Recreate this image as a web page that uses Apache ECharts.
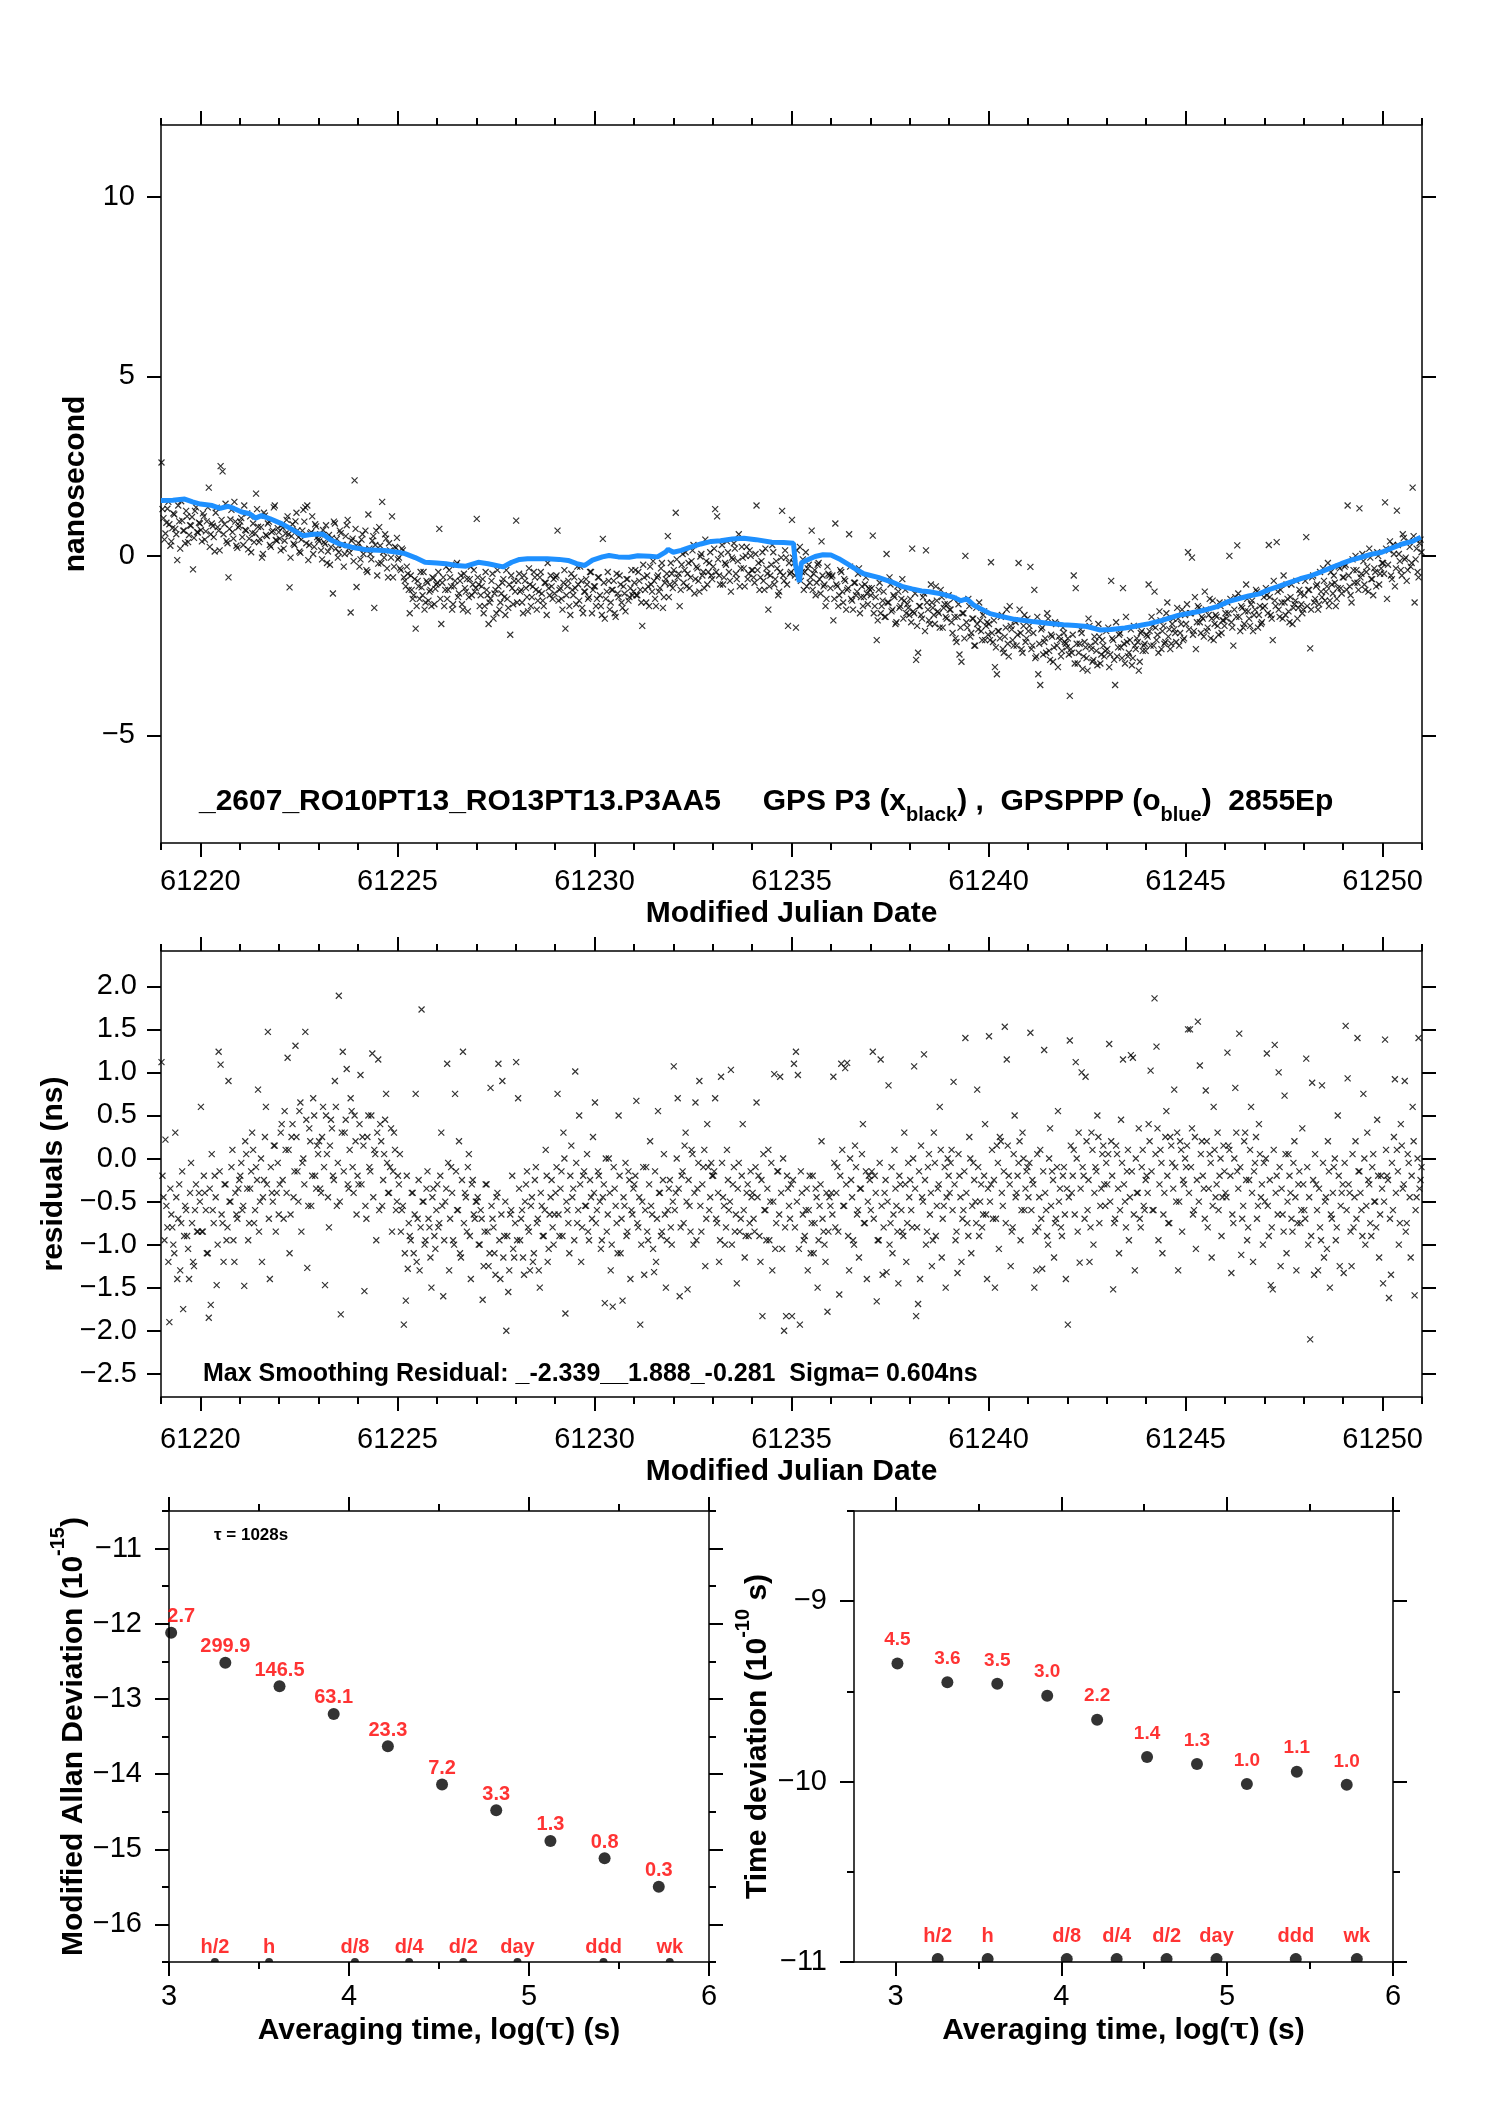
<!DOCTYPE html>
<html><head><meta charset="utf-8">
<script src="https://cdn.jsdelivr.net/npm/echarts@6/dist/echarts.min.js"></script>
<style>html,body{margin:0;padding:0;background:#fff}#c{width:1488px;height:2105px}</style>
</head><body><div id="c"></div>
<script>
// ---------------- data ----------------
const mjdStart = 61219;          // first day shown
// GPS P3 clock difference, hundredths of ns, one row per day 61219..61250 (first pass of epochs)
const p3A = [
[260,105,62,131,88,40,118,75,-12,96,152,70,35,110,58,84,-38,125,66,92],
[72,118,45,96,190,60,83,12,134,70,250,235,88,41,-60,101,66,150,28,79],
[95,52,140,70,18,110,64,38,173,81,47,-5,120,58,90,30,66,135,44,77],
[48,85,20,62,110,-88,55,34,96,71,12,45,128,135,140,30,66,5,88,52],
[40,15,72,33,-20,58,25,-105,90,47,10,63,30,5,85,20,-158,48,210,-87],
[35,-10,60,18,-40,115,5,42,-145,70,-22,28,150,-5,48,-60,15,110,-30,22],
[-10,-35,20,-60,-85,-50,-160,-95,-110,-203,-70,-120,-88,-45,-130,-75,-100,-140,-62,-92],
[-75,75,-190,-60,-95,-120,-40,-85,-135,-70,-20,-105,-55,-150,-90,-65,-115,-30,-80,-100],
[103,-80,-110,-65,-140,-95,-190,-120,-50,-105,-160,-85,-130,-75,-115,-40,-145,-220,-90,-70],
[98,-70,-100,-130,-55,-90,-155,-80,-115,-45,-95,-125,-60,-105,-140,-75,-20,-110,-85,-65],
[-60,70,-95,-120,-75,-203,-85,-140,-50,-110,-90,-30,-125,-70,-160,-100,-80,-115,-45,-95],
[-85,-120,-60,-140,47,-175,-100,-70,-130,-95,-160,-50,-115,-80,-145,-105,-65,-125,-90,-110],
[-75,-110,-45,-95,-195,-60,-130,-85,-30,-100,-70,-140,-55,-90,-20,-115,-65,55,-80,-50],
[-40,120,-60,-140,-25,-75,10,-50,-90,-15,30,-65,-35,-100,5,-45,45,-80,-20,-55],
[-30,130,110,-55,5,-80,-20,40,-45,-100,-10,20,-65,60,-35,-5,-85,25,-50,0],
[-40,-75,140,-20,-60,10,-95,-35,-150,-55,30,-80,-15,-110,-45,125,-70,-5,-195,-50],
[100,-20,-200,-60,25,-45,-95,10,-35,-75,70,-50,-110,-25,-65,40,-85,-140,-30,-55],
[-60,-180,90,-85,-110,-45,-130,-70,-95,60,-120,-150,-75,-100,-35,-115,-140,-80,-105,-90],
[-110,56,-140,-235,-95,-160,-125,-170,5,-130,-80,-150,-115,-185,-100,-140,-65,-125,-160,-145],
[-120,20,-160,-290,-270,-140,-175,-105,15,-150,-190,-130,-165,-85,-155,-200,-115,-145,-170,-135],
[-150,-185,-120,-230,-170,-275,-295,-160,0,-200,-140,-215,-175,-250,-190,-130,-210,-165,-235,-185],
[-190,-18,-240,-310,-330,-210,-170,-260,-225,-150,-280,-195,-235,-180,-250,-20,-215,-270,-165,-230],
[-210,-31,-250,-95,-280,-330,-360,-200,-240,-270,-175,-290,-225,-255,-190,-310,-235,-265,-215,-245],
[-230,-390,-270,-55,-90,-300,-245,-215,-280,-255,-320,-195,-260,-290,-240,-305,-225,-275,-250,-265],
[-260,-310,-70,-235,-360,-280,-220,-255,-90,-300,-240,-270,-205,-285,-250,-230,-320,-215,-265,-245],
[-220,-80,-250,-195,-100,-235,-270,-180,-210,-245,-160,-225,-260,-190,-205,-240,-175,-215,-150,-230],
[-190,10,-160,-5,-210,-260,-140,-185,-170,-225,-150,-200,-120,-175,-235,-165,-195,-130,-215,-180],
[-160,-130,0,-185,-250,-115,29,-170,-140,-200,-155,-120,-175,-135,-210,-150,-100,-165,-190,-145],
[-140,-110,30,-165,-235,-125,38,-150,-95,-175,-130,-80,-155,-115,-190,-135,-70,-145,-105,-160],
[-110,52,-95,-258,-60,-130,-85,-150,-45,-115,-70,-100,-20,-125,-80,-55,-140,-90,-35,-105],
[-60,-25,140,-85,-130,-40,0,-75,132,-50,-15,-95,-30,20,-65,-110,-45,10,-80,-35],
[-20,149,-120,15,-55,30,-85,126,5,-40,60,-10,-70,40,-30,190,-130,20,-60,45]
];
// GPS P3, second pass of epochs (body of the band)
const p3B = [
[130,45,92,150,28,77,115,60,140,20,98,70,125,38,85,108,50,135,65,90],
[40,110,68,135,25,90,52,120,80,15,100,60,145,35,75,128,48,95,22,84],
[105,30,72,118,48,10,90,62,130,38,80,5,112,55,95,25,70,140,42,66],
[15,78,42,100,60,-5,88,30,120,52,8,70,95,35,-12,62,110,25,82,45],
[60,-10,38,85,12,-25,50,95,20,-5,70,30,-30,55,100,8,42,-15,75,25],
[-30,45,5,70,-45,20,-10,55,30,-55,80,-20,10,60,-35,35,-5,-60,25,50],
[-5,-40,15,-70,-30,-95,-55,-120,-65,-140,-85,-45,-110,-150,-70,-125,-95,-60,-135,-80],
[-45,-120,-75,-140,-30,-95,-60,-150,-85,-25,-115,-70,-135,-50,-100,-155,-65,-110,-40,-90],
[-60,-140,-85,-160,-45,-110,-130,-70,-175,-95,-40,-150,-105,-65,-165,-120,-80,-55,-135,-100],
[-130,-50,-95,-160,-70,-115,-35,-140,-85,-60,-150,-100,-45,-125,-75,-165,-90,-55,-120,-105],
[-55,-125,-90,-150,-40,-110,-70,-165,-95,-60,-135,-80,-30,-145,-100,-65,-120,-45,-160,-85],
[-140,-60,-110,-165,-75,-120,-45,-150,-95,-70,-170,-105,-55,-130,-85,-155,-65,-115,-40,-100],
[-40,-110,-70,-130,-25,-95,-55,-140,-80,-15,-120,-60,-100,-35,-145,-75,-50,-115,-20,-90],
[-75,-10,-50,-95,5,-40,-85,-20,-60,15,-105,-30,-70,-2,-55,-90,-15,-45,10,-65],
[20,-45,-10,-80,30,-60,-25,10,-70,-5,35,-50,-15,-85,25,-35,0,-65,15,-40],
[-60,5,-40,-95,-15,-70,20,-50,-85,-25,10,-65,-35,-100,-5,-55,15,-80,-20,-45],
[-5,-55,15,-35,-70,-10,-45,-85,-25,-60,-95,-40,-75,-20,-105,-55,-80,-120,-50,-90],
[-55,-120,-80,-140,-40,-100,-65,-150,-90,-30,-125,-75,-110,-50,-160,-85,-115,-60,-135,-95],
[-90,-160,-115,-180,-75,-140,-100,-170,-130,-60,-155,-110,-190,-85,-145,-120,-175,-95,-135,-165],
[-185,-155,-105,-195,-140,-165,-115,-210,-130,-180,-80,-145,-190,-125,-160,-95,-200,-135,-175,-110],
[-150,-215,-170,-240,-135,-200,-160,-230,-185,-120,-225,-175,-250,-145,-205,-180,-235,-155,-195,-220],
[-235,-215,-180,-255,-210,-230,-165,-270,-200,-245,-140,-205,-250,-185,-220,-150,-260,-195,-240,-175],
[-195,-260,-215,-285,-170,-245,-205,-275,-230,-160,-265,-220,-295,-185,-250,-225,-280,-200,-240,-255],
[-275,-260,-220,-300,-245,-270,-205,-315,-240,-285,-175,-250,-295,-225,-265,-190,-300,-235,-280,-210],
[-200,-275,-230,-290,-185,-255,-215,-285,-245,-170,-280,-235,-305,-195,-260,-240,-295,-210,-250,-265],
[-225,-210,-170,-250,-200,-220,-155,-260,-195,-240,-130,-205,-245,-175,-215,-145,-250,-190,-235,-165],
[-135,-205,-160,-220,-115,-185,-145,-215,-175,-100,-210,-165,-230,-125,-190,-170,-220,-140,-180,-195],
[-175,-160,-120,-200,-150,-170,-105,-210,-145,-190,-80,-155,-195,-125,-165,-95,-200,-140,-185,-115],
[-90,-160,-115,-175,-70,-140,-100,-170,-130,-55,-165,-120,-185,-80,-145,-125,-175,-95,-135,-150],
[-70,-140,-95,-150,-55,-120,-80,-135,-100,-35,-125,-85,-140,-45,-105,-75,-120,-30,-90,-60],
[-30,-95,-55,-110,-10,-75,-40,-95,-60,5,-80,-45,-100,-5,-65,-35,-85,0,-50,-20],
[-50,20,-25,40,-65,5,-35,30,-15,-55,50,-5,-40,25,-20,55,-10,-45,35,10]
];
// GPSPPP (blue) : MJD and ns
const pppMjd = [61219.0,61219.3,61219.6,61219.8,61220.0,61220.3,61220.5,61220.7,61220.85,61221.05,61221.25,61221.4,61221.55,61221.77,61222.07,61222.3,61222.6,61222.85,61223.1,61223.3,61223.53,61223.7,61223.84,61224.2,61224.67,61225.0,61225.19,61225.45,61225.7,61226.0,61226.23,61226.5,61226.74,61227.05,61227.3,61227.68,61227.9,61228.1,61228.3,61228.8,61229.1,61229.33,61229.55,61229.75,61229.95,61230.2,61230.37,61230.6,61230.88,61231.1,61231.4,61231.6,61231.8,61231.87,61232.0,61232.2,61232.44,61232.7,61232.96,61233.2,61233.5,61233.79,61234.1,61234.5,61234.8,61235.05,61235.1,61235.2,61235.25,61235.37,61235.6,61235.8,61236.0,61236.2,61236.41,61236.6,61236.83,61237.2,61237.55,61237.8,61238.06,61238.3,61238.5,61238.8,61239.1,61239.3,61239.45,61239.63,61239.85,61240.04,61240.3,61240.66,61240.9,61241.18,61241.5,61241.9,61242.21,61242.5,61242.84,61243.1,61243.46,61243.8,61244.08,61244.4,61244.81,61245.1,61245.33,61245.6,61245.84,61246.1,61246.36,61246.6,61246.87,61247.1,61247.4,61247.65,61247.91,61248.2,61248.43,61248.7,61248.95,61249.2,61249.46,61249.7,61249.98,61250.2,61250.5,61250.75,61250.97];
const pppNs = [1.54,1.55,1.58,1.50,1.44,1.40,1.32,1.38,1.32,1.22,1.17,1.05,1.12,1.03,0.89,0.75,0.56,0.60,0.61,0.45,0.33,0.28,0.24,0.17,0.15,0.10,0.06,-0.05,-0.18,-0.20,-0.22,-0.27,-0.29,-0.18,-0.22,-0.31,-0.18,-0.10,-0.08,-0.08,-0.10,-0.13,-0.22,-0.27,-0.12,-0.03,0.01,-0.03,-0.04,0.00,-0.01,-0.03,0.10,0.18,0.10,0.15,0.24,0.33,0.40,0.42,0.47,0.49,0.45,0.38,0.37,0.35,-0.25,-0.73,-0.20,-0.13,-0.02,0.03,0.02,-0.08,-0.22,-0.35,-0.50,-0.60,-0.73,-0.85,-0.92,-0.98,-1.00,-1.06,-1.15,-1.25,-1.20,-1.38,-1.50,-1.61,-1.68,-1.77,-1.80,-1.84,-1.88,-1.92,-1.94,-1.97,-2.07,-2.05,-2.01,-1.95,-1.89,-1.80,-1.66,-1.60,-1.55,-1.48,-1.40,-1.27,-1.19,-1.12,-1.06,-0.95,-0.84,-0.74,-0.64,-0.55,-0.45,-0.33,-0.22,-0.12,-0.04,0.04,0.10,0.20,0.33,0.40,0.52];
// residuals, hundredths of ns, one row per day 61219..61250 (first pass)
const resA = [
[112,-45,22,-80,-190,-65,-100,30,-140,-30,-75,-175,-55,-90,-140,-5,-120,-60,-85,-40],
[60,-85,-40,-110,-185,-170,-60,-20,-147,124,109,-75,-30,-95,90,-50,10,-120,-65,-35],
[-20,-60,-148,5,-95,-35,30,-75,-10,80,-50,-120,-25,60,147,-140,-40,15,-85,-5],
[-30,40,-70,10,117,-110,25,-45,131,-15,55,-85,0,147,-127,35,-55,70,-20,15],
[20,-40,60,-147,5,-80,45,-20,90,-55,189,-181,124,30,104,-35,70,-10,50,-65],
[-30,97,25,-154,-70,50,-15,122,10,-95,115,40,-55,5,75,-40,-10,-85,30,-60],
[-20,5,-60,-193,-165,-128,-90,-40,-110,75,-70,-130,173,-50,-95,-15,-80,-150,-35,-105],
[-30,-75,30,-160,-50,110,-130,-10,-95,75,-60,20,-115,124,-40,-85,5,-140,-25,-70],
[-50,-100,-60,-164,-85,-30,-125,82,-70,-110,-45,110,-140,90,-90,-200,-155,-65,-20,-115],
[112,70,-95,-60,-135,-30,-80,-130,-45,-110,-10,-70,-150,-55,-90,10,-120,-65,-25,-100],
[-40,75,-90,-15,30,-180,-60,-110,15,-35,101,-75,50,-120,-20,-55,5,-95,-45,25],
[65,-60,-20,-105,-45,-168,-85,0,-130,-172,-35,-75,50,-110,-165,-55,-90,-15,-140,-65],
[-30,67,-80,-193,-50,-135,-10,-95,20,-65,-132,-120,55,-40,-85,5,-150,-60,-25,-100],
[107,-40,70,-160,-20,-75,30,-152,-55,10,-100,65,-35,90,-85,-10,-125,40,-60,-5],
[-20,70,-75,-120,95,-45,-100,10,-60,103,-30,-85,-145,-5,-70,40,-115,-40,-90,-15],
[-40,-85,65,-20,-120,-183,-60,-95,10,-50,-130,98,-75,-15,95,-105,-200,-183,-35,-70],
[-183,110,124,97,-193,-40,-95,-60,-130,-20,-75,-110,-35,-150,-55,20,-85,-120,-178,-45],
[-40,95,-80,-10,-158,110,-55,105,111,-130,-25,-95,15,-65,-115,-35,40,-75,-140,-20],
[-60,124,-20,-166,-95,115,-135,-40,-132,85,-75,-110,10,-55,-145,-30,-85,30,-120,-5],
[-25,-80,107,-183,-169,-140,-45,121,-100,-10,-65,-125,30,-90,-35,60,-115,-55,-150,0],
[-40,10,89,-95,-133,-20,-120,-60,140,-75,25,-110,-5,-50,80,-90,-30,-65,40,-140],
[142,-30,-70,-150,15,-105,20,-55,153,115,-20,-125,-80,50,-40,-5,-95,30,-60,-15],
[-45,146,-25,-150,-130,-80,10,-128,126,-60,-100,35,-15,-115,-70,55,-35,-90,-10,-140],
[-193,137,-40,10,112,-85,-121,100,-20,95,-60,-120,30,-100,-10,50,-75,-35,15,-55],
[-30,133,20,-152,-70,5,-110,45,115,-50,-15,-95,120,117,-130,-40,35,-80,10,-60],
[-20,40,102,-60,186,130,-95,10,-110,-40,55,-75,25,-5,80,-50,-130,20,-85,-30],
[-10,150,150,35,-60,-105,159,108,20,-35,79,-80,5,-115,60,-45,30,-20,-90,15],
[-40,123,10,-133,-75,82,-15,145,-112,-55,30,-95,-25,60,-120,-5,-70,40,-45,-100],
[-50,122,-90,-147,-152,132,-20,100,-125,-65,73,-110,5,-40,-85,20,-130,-30,-75,35],
[-60,116,-100,-210,88,-135,-30,-130,-80,85,-115,-45,20,-150,-70,-10,-95,50,-125,-40],
[-133,154,93,-40,-125,-80,20,140,-15,-60,75,-100,30,-30,-90,5,-50,45,-115,-20],
[-145,138,-20,-162,-135,-60,92,10,-100,40,-35,90,-75,-5,-115,60,-159,-45,140,-25]
];
// residuals, second pass (body of the band)
const resB = [
[-20,-95,-55,-120,-35,-80,-110,-45,-70,-130,-15,-90,-60,-105,-40,-75,-125,-30,-85,-50],
[-85,-20,-60,-110,-35,5,-75,-45,-100,-15,-65,-120,-30,-80,-50,-10,-95,-40,-70,-25],
[-5,-55,20,-35,-75,-15,10,-60,-25,-85,0,-45,25,-30,-70,-10,-50,15,-40,-65],
[30,-25,55,-40,10,-65,40,-15,25,-50,65,-5,-30,45,-55,20,-20,50,-35,5],
[-35,25,-10,50,-45,15,35,-25,60,-5,-50,30,-15,45,-30,10,55,-40,20,-20],
[40,-30,15,-55,25,-10,50,-45,5,30,-60,20,-25,45,-5,-40,35,-15,10,-50],
[-30,-85,-55,-110,-20,-75,-95,-40,-65,-120,-25,-80,-50,-100,-35,-70,-115,-45,-90,-60],
[-80,-20,-55,-95,-35,-5,-70,-40,-100,-15,-60,-110,-25,-75,-45,-10,-90,-30,-65,-50],
[-45,-100,-70,-125,-30,-85,-110,-55,-80,-135,-40,-95,-65,-115,-50,-90,-130,-60,-105,-75],
[-95,-35,-70,-115,-50,-15,-85,-55,-120,-25,-75,-130,-40,-90,-60,-20,-105,-45,-80,-65],
[-10,-65,-35,-90,0,-50,-75,-20,-45,-95,-5,-60,-30,-80,-15,-55,-85,-25,-70,-40],
[-75,-15,-50,-95,-30,0,-65,-40,-100,-10,-55,-110,-20,-70,-45,-5,-85,-25,-60,-35],
[-20,-75,-45,-100,-10,-60,-85,-30,-55,-105,-15,-70,-40,-90,-25,-65,-95,-35,-80,-50],
[-60,0,-35,-80,-15,15,-50,-25,-85,5,-40,-95,-5,-55,-30,10,-70,-10,-45,-20],
[-15,-70,-40,-95,-5,-55,-80,-25,-50,-100,-10,-65,-35,-85,-20,-60,-90,-30,-75,-45],
[-70,-10,-45,-90,-25,5,-60,-35,-95,-5,-50,-105,-15,-65,-40,0,-80,-20,-55,-30],
[-25,-80,-50,-105,-15,-65,-90,-35,-60,-110,-20,-75,-45,-95,-30,-70,-100,-40,-85,-55],
[-65,-5,-40,-85,-20,10,-55,-30,-90,0,-45,-100,-10,-60,-35,5,-75,-15,-50,-25],
[-15,-70,-40,-95,-5,-55,-80,-25,-50,-100,-10,-65,-35,-85,-20,-60,-90,-30,-75,-45],
[-60,0,-35,-80,-15,15,-50,-25,-85,5,-40,-95,-5,-55,-30,10,-70,-10,-45,-20],
[-5,-60,-30,-85,5,-45,-70,-15,-40,-90,0,-55,-25,-75,-10,-50,-80,-20,-65,-35],
[-50,10,-25,-70,-5,25,-40,-15,-75,15,-30,-85,5,-45,-20,20,-60,0,-35,-10],
[-5,-60,-30,-85,5,-45,-70,-15,-40,-90,0,-55,-25,-75,-10,-50,-80,-20,-65,-35],
[-45,15,-20,-65,0,30,-35,-10,-70,20,-25,-80,10,-40,-15,25,-55,5,-30,-5],
[5,-50,-20,-75,15,-35,-60,-5,-30,-80,10,-45,-15,-65,0,-40,-70,-10,-55,-25],
[-40,20,-15,-60,5,35,-30,-5,-65,25,-20,-75,15,-35,-10,30,-50,10,-25,0],
[15,-40,-10,-65,25,-25,-50,5,-20,-70,20,-35,-5,-55,10,-30,-60,0,-45,-15],
[-45,15,-20,-65,0,30,-35,-10,-70,20,-25,-80,10,-40,-15,25,-55,5,-30,-5],
[0,-55,-25,-80,10,-40,-65,-10,-35,-85,5,-50,-20,-70,-5,-45,-75,-15,-60,-30],
[-70,-10,-45,-90,-25,5,-60,-35,-95,-5,-50,-105,-15,-65,-40,0,-80,-20,-55,-30],
[-5,-60,-30,-85,5,-45,-70,-15,-40,-90,0,-55,-25,-75,-10,-50,-80,-20,-65,-35],
[-50,10,-25,-70,-5,25,-40,-15,-75,15,-30,-85,5,-45,-20,20,-60,0,-35,-10]
];
// stability plots
const logTau = [3.012,3.313,3.614,3.915,4.216,4.517,4.818,5.119,5.420,5.721];
const adevLog = [-12.12,-12.52,-12.83,-13.20,-13.63,-14.14,-14.48,-14.89,-15.12,-15.50];
const adevLabels = ["2.7","299.9","146.5","63.1","23.3","7.2","3.3","1.3","0.8","0.3"];
const tdevLog = [-9.345,-9.449,-9.458,-9.524,-9.657,-9.863,-9.903,-10.013,-9.945,-10.018];
const tdevLabels = ["4.5","3.6","3.5","3.0","2.2","1.4","1.3","1.0","1.1","1.0"];
const markerLogTau = [3.255,3.556,4.033,4.334,4.635,4.936,5.414,5.782];
const markerLabels = ["h/2","h","d/8","d/4","d/2","day","ddd","wk"];
// tick labels
const mjdTicks = [61220,61225,61230,61235,61240,61245,61250];
const nsTicks = [-5,0,5,10];
const resTicks = [-2.5,-2,-1.5,-1,-0.5,0,0.5,1,1.5,2];
const tauTicks = [3,4,5,6];
const tauMinor = [3.5,4.5,5.5];
const adevTicks = [-16,-15,-14,-13,-12,-11];
const adevMinor = [-16.5,-15.5,-14.5,-13.5,-12.5,-11.5,-10.5];
const tdevTicks = [-11,-10,-9];
const tdevMinor = [-10.5,-9.5,-8.5];

// ---------------- chart ----------------
const F = '"Liberation Sans", Arial, Helvetica, sans-serif';
const minus = s => String(s).replace('-', '\u2212');
const dayTicks = [];
for (let d = 61219; d <= 61251; d++) if (d % 5 !== 0) dayTicks.push(d);

const xAxis = [], yAxis = [];
function ax(list, o) { list.push(o); return list.length - 1; }
function base(gi, min, max, pos, ticks, len, showLine) {
  return {
    type: 'value', gridIndex: gi, min: min, max: max, position: pos,
    axisLine: { show: showLine, onZero: false, lineStyle: { color: '#000', width: 1.5 } },
    axisTick: { show: true, inside: false, length: len, customValues: ticks, lineStyle: { color: '#000', width: 2 } },
    axisLabel: { show: false }, splitLine: { show: false }, minorTick: { show: false }, minorSplitLine: { show: false }
  };
}
function withLabels(o, vals, margin, fmt) {
  o.axisLabel = { show: true, customValues: vals, margin: margin, fontSize: 29, fontFamily: F, color: '#000',
    formatter: fmt, showMinLabel: true, showMaxLabel: true };
  return o;
}
function withName(o, name, gap, rich) {
  o.name = name; o.nameLocation = 'middle'; o.nameGap = gap;
  o.nameTextStyle = { fontSize: 30, fontWeight: 'bold', fontFamily: F, color: '#000', rich: rich || {} };
  return o;
}
const supRich = {
  m: { fontSize: 30, fontWeight: 'bold', fontFamily: F, color: '#000', lineHeight: 40, verticalAlign: 'bottom' },
  s: { fontSize: 20, fontWeight: 'bold', fontFamily: F, color: '#000', lineHeight: 40, verticalAlign: 'top' },
  t: { fontSize: 30, fontFamily: '"DejaVu Serif", serif', color: '#000', lineHeight: 40, verticalAlign: 'bottom' }
};

// grid 0 & 1 : time series
const mjdFmt = v => String(v);
const X = {}, Y = {};
[[0, 24, 56], [1, 28, 60]].forEach(([gi, lm, ng]) => {
  X[gi] = ax(xAxis, withName(withLabels(base(gi, 61219, 61251, 'bottom', mjdTicks, 14, true), mjdTicks, lm, mjdFmt), 'Modified Julian Date', ng));
  ax(xAxis, base(gi, 61219, 61251, 'bottom', dayTicks, 7, false));
  ax(xAxis, base(gi, 61219, 61251, 'top', mjdTicks, 14, true));
  ax(xAxis, base(gi, 61219, 61251, 'top', dayTicks, 7, false));
});
Y[0] = ax(yAxis, withName(withLabels(base(0, -8, 12, 'left', nsTicks, 14, true), nsTicks, 26, v => minus(v)), 'nanosecond', 55));
ax(yAxis, base(0, -8, 12, 'right', nsTicks, 14, true));
Y[1] = ax(yAxis, withName(withLabels(base(1, -2.77, 2.41, 'left', resTicks, 14, true), resTicks, 24, v => minus(Number(v).toFixed(1))), 'residuals (ns)', 81));
ax(yAxis, base(1, -2.77, 2.41, 'right', resTicks, 14, true));

// grid 2 & 3 : stability
const tauName = '{m|Averaging time, log(}{t|\u03c4}{m|) (s)}';
[[2, 3], [3, 2.75]].forEach(([gi, mn]) => {
  X[gi] = ax(xAxis, withName(withLabels(base(gi, mn, 6, 'bottom', tauTicks, 14, true), tauTicks, 20, v => String(v)), tauName, 44, supRich));
  ax(xAxis, base(gi, mn, 6, 'bottom', tauMinor, 7, false));
  ax(xAxis, base(gi, mn, 6, 'top', tauTicks, 14, true));
  ax(xAxis, base(gi, mn, 6, 'top', tauMinor, 7, false));
});
Y[2] = ax(yAxis, withName(withLabels(base(2, -16.5, -10.5, 'left', adevTicks, 14, true), adevTicks, 27, v => minus(v)),
  '{m|Modified Allan Deviation (10}{s|-15}{m|)}', 80, supRich));
ax(yAxis, base(2, -16.5, -10.5, 'left', adevMinor, 7, false));
ax(yAxis, base(2, -16.5, -10.5, 'right', adevTicks, 14, true));
ax(yAxis, base(2, -16.5, -10.5, 'right', adevMinor, 7, false));
Y[3] = ax(yAxis, withName(withLabels(base(3, -11, -8.5, 'left', tdevTicks, 14, true), tdevTicks, 27, v => minus(v)),
  '{m|Time deviation (10}{s|-10}{m| s)}', 81, supRich));
ax(yAxis, base(3, -11, -8.5, 'left', tdevMinor, 7, false));
ax(yAxis, base(3, -11, -8.5, 'right', tdevTicks, 14, true));
ax(yAxis, base(3, -11, -8.5, 'right', tdevMinor, 7, false));

// series data: two passes of epochs per day, interleaved in time
function daily(rowsA, rowsB) {
  const out = [];
  rowsA.forEach((row, k) => {
    const n = row.length;
    row.forEach((v, j) => out.push([mjdStart + k + (j + 0.25) / n, v / 100]));
    rowsB[k].forEach((v, j) => out.push([mjdStart + k + (j + 0.75) / n, v / 100]));
  });
  return out;
}
const crossSym = 'path://M0,0L10,10M10,0L0,10';
const crossStyle = { color: 'rgba(0,0,0,0)', borderColor: '#000', borderWidth: 1.2 };
const capDot = 'path://M0,9A6.2,6.2 0 1 1 11,9Z';
const red = '#ff0000';

const series = [
  { type: 'scatter', xAxisIndex: X[0], yAxisIndex: Y[0], data: daily(p3A, p3B), symbol: crossSym, symbolSize: [6, 6],
    itemStyle: crossStyle, silent: true, z: 2 },
  { type: 'line', xAxisIndex: X[0], yAxisIndex: Y[0], data: pppMjd.map((m, i) => [m, pppNs[i]]), showSymbol: false,
    lineStyle: { color: '#1E90FF', width: 5 }, silent: true, z: 3 },
  { type: 'scatter', xAxisIndex: X[1], yAxisIndex: Y[1], data: daily(resA, resB), symbol: crossSym, symbolSize: [6, 6],
    itemStyle: crossStyle, silent: true, z: 2 },
  { type: 'scatter', xAxisIndex: X[2], yAxisIndex: Y[2],
    data: logTau.map((t, i) => i === 0 ? { value: [t, adevLog[i]], label: { offset: [10, 0] } } : [t, adevLog[i]]),
    symbol: 'circle', symbolSize: 12, itemStyle: { color: '#000' }, silent: true,
    label: { show: true, position: 'top', distance: 0, formatter: p => adevLabels[p.dataIndex],
      color: red, fontWeight: 'bold', fontSize: 20, fontFamily: F } },
  { type: 'scatter', xAxisIndex: X[2], yAxisIndex: Y[2], data: markerLogTau.map(t => [t, -16.5]),
    symbol: 'path://M0,10A10,10 0 0 1 20,10Z', symbolSize: [8, 4], symbolOffset: [0, '-50%'], itemStyle: { color: '#000' }, silent: true, clip: false,
    label: { show: true, position: 'top', distance: 1, formatter: p => markerLabels[p.dataIndex],
      color: red, fontWeight: 'bold', fontSize: 20, fontFamily: F } },
  { type: 'scatter', xAxisIndex: X[3], yAxisIndex: Y[3], data: logTau.map((t, i) => [t, tdevLog[i]]),
    symbol: 'circle', symbolSize: 12, itemStyle: { color: '#000' }, silent: true,
    label: { show: true, position: 'top', distance: 8, formatter: p => tdevLabels[p.dataIndex],
      color: red, fontWeight: 'bold', fontSize: 19, fontFamily: F } },
  { type: 'scatter', xAxisIndex: X[3], yAxisIndex: Y[3], data: markerLogTau.map(t => [t, -11]),
    symbol: capDot, symbolSize: [12, 9], symbolOffset: [0, '-50%'], itemStyle: { color: '#000' }, silent: true, clip: false,
    label: { show: true, position: 'top', distance: 7, formatter: p => markerLabels[p.dataIndex],
      color: red, fontWeight: 'bold', fontSize: 20, fontFamily: F } }
];

const topNote = '{m|_2607_RO10PT13_RO13PT13.P3AA5     GPS P3 (x}{s|black}{m|) ,  GPSPPP (o}{s|blue}{m|)  2855Ep}';
const graphic = [
  { type: 'text', left: 199, top: 787, silent: true, style: {
      text: topNote, fill: '#000',
      rich: {
        m: { fontSize: 30, fontWeight: 'bold', fontFamily: F, fill: '#000', lineHeight: 38, verticalAlign: 'top' },
        s: { fontSize: 20, fontWeight: 'bold', fontFamily: F, fill: '#000', lineHeight: 38, verticalAlign: 'bottom' }
      } } },
  { type: 'text', silent: true, style: {
      text: 'Max Smoothing Residual: _-2.339__1.888_-0.281  Sigma= 0.604ns',
      x: 203, y: 1374, fill: '#000', font: 'bold 25px ' + F,
      align: 'left', verticalAlign: 'middle', textAlign: 'left', textVerticalAlign: 'middle' } },
  { type: 'text', silent: true, style: {
      text: '\u03c4 = 1028s', x: 214, y: 1535, fill: '#000', font: 'bold 17px ' + F,
      align: 'left', verticalAlign: 'middle', textAlign: 'left', textVerticalAlign: 'middle' } }
];

const chart = echarts.init(document.getElementById('c'), null, { renderer: 'canvas' });
chart.setOption({
  animation: false,
  backgroundColor: '#fff',
  grid: [
    { left: 161, top: 125, width: 1261, height: 718 },
    { left: 161, top: 951, width: 1261, height: 446 },
    { left: 169, top: 1511, width: 540, height: 451 },
    { left: 854, top: 1511, width: 539, height: 451 }
  ],
  xAxis: xAxis, yAxis: yAxis, series: series, graphic: graphic
});
</script></body></html>
